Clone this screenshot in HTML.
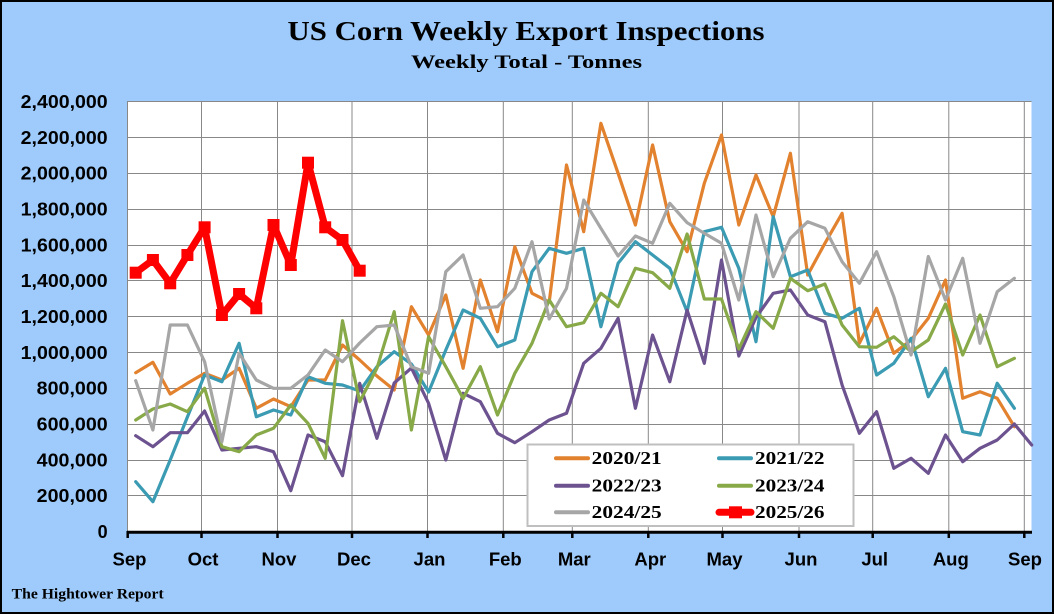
<!DOCTYPE html>
<html>
<head>
<meta charset="utf-8">
<style>
html,body{margin:0;padding:0;background:#9ecbfb;}
svg{display:block;}
</style>
</head>
<body>
<svg width="1054" height="614" viewBox="0 0 1054 614" xmlns="http://www.w3.org/2000/svg">
<rect x="0" y="0" width="1054" height="614" fill="#9ecbfb"/>
<rect x="1" y="1" width="1052" height="612" fill="none" stroke="#000" stroke-width="2"/>

<text x="526" y="40" text-anchor="middle" font-family="Liberation Serif, serif" font-weight="bold" font-size="27" textLength="477" lengthAdjust="spacingAndGlyphs" fill="#000">US Corn Weekly Export Inspections</text>
<text x="526.5" y="68" text-anchor="middle" font-family="Liberation Serif, serif" font-weight="bold" font-size="19" textLength="231" lengthAdjust="spacingAndGlyphs" fill="#000">Weekly Total - Tonnes</text>

<!-- plot area -->
<rect x="127.5" y="101.5" width="904" height="430" fill="#fff"/>
<g stroke="#888" stroke-width="1" fill="none">
<line x1="127.5" y1="101.5" x2="1031.5" y2="101.5"/>
<line x1="127.5" y1="137.5" x2="1031.5" y2="137.5"/>
<line x1="127.5" y1="173.5" x2="1031.5" y2="173.5"/>
<line x1="127.5" y1="209.5" x2="1031.5" y2="209.5"/>
<line x1="127.5" y1="245.5" x2="1031.5" y2="245.5"/>
<line x1="127.5" y1="280.5" x2="1031.5" y2="280.5"/>
<line x1="127.5" y1="316.5" x2="1031.5" y2="316.5"/>
<line x1="127.5" y1="352.5" x2="1031.5" y2="352.5"/>
<line x1="127.5" y1="388.5" x2="1031.5" y2="388.5"/>
<line x1="127.5" y1="424.5" x2="1031.5" y2="424.5"/>
<line x1="127.5" y1="460.5" x2="1031.5" y2="460.5"/>
<line x1="127.5" y1="495.5" x2="1031.5" y2="495.5"/>
<line x1="127.5" y1="101" x2="127.5" y2="532"/>
<line x1="201.5" y1="101" x2="201.5" y2="532"/>
<line x1="277.5" y1="101" x2="277.5" y2="532"/>
<line x1="352" y1="101" x2="352" y2="532"/>
<line x1="427.5" y1="101" x2="427.5" y2="532"/>
<line x1="503.3" y1="101" x2="503.3" y2="532"/>
<line x1="572.3" y1="101" x2="572.3" y2="532"/>
<line x1="648.3" y1="101" x2="648.3" y2="532"/>
<line x1="722.5" y1="101" x2="722.5" y2="532"/>
<line x1="799" y1="101" x2="799" y2="532"/>
<line x1="872.7" y1="101" x2="872.7" y2="532"/>
<line x1="948.8" y1="101" x2="948.8" y2="532"/>
<line x1="1024.3" y1="101" x2="1024.3" y2="532"/>
</g>

<!-- series -->
<g fill="none" stroke-width="3.2" stroke-linejoin="round" stroke-linecap="round">
<polyline stroke="#e2822f" points="135.7,372.7 152.9,362.3 170.2,394 187.4,383.3 204.6,373.3 221.9,380 239.1,368.3 256.3,408.3 273.5,399 290.8,406.7 308.0,380 325.2,380 342.5,345 359.7,360 376.9,376 394.2,390 411.4,306.7 428.6,335 445.8,295 463.1,368.3 480.3,280 497.5,331.7 514.8,246.7 532.0,293.3 549.2,302 566.5,165 583.7,231.7 600.9,123.3 618.1,173.3 635.4,225 652.6,145 669.8,221.7 687.1,251.7 704.3,183.3 721.5,135 738.8,225 756.0,175 773.2,216.7 790.4,153.3 807.7,275 824.9,243.3 842.1,213.3 859.4,343.3 876.6,308.3 893.8,353.3 911.1,340 928.3,318.3 945.5,280 962.7,398.3 980.0,391.7 997.2,398.3 1014.4,426.7"/>
<polyline stroke="#3b9bb3" points="135.7,481.7 152.9,501.7 170.2,460 187.4,417 204.6,375 221.9,381.7 239.1,343.3 256.3,416.7 273.5,410 290.8,415 308.0,376.7 325.2,383.3 342.5,385 359.7,391 376.9,366.7 394.2,351.7 411.4,364 428.6,392 445.8,350 463.1,310 480.3,318.3 497.5,346.7 514.8,340 532.0,271.7 549.2,248.3 566.5,253.3 583.7,248.3 600.9,326.7 618.1,263.3 635.4,241.7 652.6,255 669.8,268.3 687.1,311.7 704.3,231.7 721.5,227.3 738.8,268.3 756.0,341.7 773.2,216.7 790.4,276.7 807.7,270 824.9,313.3 842.1,318.3 859.4,308.3 876.6,375 893.8,363.3 911.1,338.3 928.3,396.7 945.5,368.3 962.7,431.7 980.0,435 997.2,383.3 1014.4,408.3"/>
<polyline stroke="#6d5290" points="135.7,435.7 152.9,446.7 170.2,432.7 187.4,432.7 204.6,411 221.9,450 239.1,448.3 256.3,446.7 273.5,451.7 290.8,490.7 308.0,435 325.2,441.7 342.5,475.7 359.7,383.3 376.9,438.3 394.2,383 411.4,368 428.6,403.3 445.8,460 463.1,393.3 480.3,401.7 497.5,433.3 514.8,442.7 532.0,431.7 549.2,420 566.5,413.3 583.7,363.3 600.9,348.3 618.1,318.3 635.4,408.3 652.6,335 669.8,381.7 687.1,310 704.3,363.3 721.5,260 738.8,356 756.0,317.5 773.2,293.3 790.4,290 807.7,315 824.9,321.7 842.1,385 859.4,433.3 876.6,411.7 893.8,468.3 911.1,458.3 928.3,473.3 945.5,435 962.7,461.7 980.0,448.3 997.2,440 1014.4,424 1031.7,445"/>
<polyline stroke="#88a948" points="135.7,420 152.9,409 170.2,404 187.4,411.7 204.6,388.3 221.9,446.7 239.1,451.7 256.3,435 273.5,428.3 290.8,405 308.0,423.3 325.2,458.3 342.5,320.7 359.7,401.7 376.9,368.3 394.2,311.7 411.4,430 428.6,336.7 445.8,366.7 463.1,398.3 480.3,366.7 497.5,415 514.8,373.3 532.0,343.3 549.2,300 566.5,326.7 583.7,322.7 600.9,293.3 618.1,306.7 635.4,268.3 652.6,272.7 669.8,288.3 687.1,234 704.3,299 721.5,299 738.8,349 756.0,311.7 773.2,328.3 790.4,278.3 807.7,290.7 824.9,284 842.1,325 859.4,346.7 876.6,347.3 893.8,336.7 911.1,351.7 928.3,340 945.5,304 962.7,355 980.0,315 997.2,366.7 1014.4,358.3"/>
<polyline stroke="#a6a6a6" points="135.7,380.7 152.9,430 170.2,325 187.4,325 204.6,361.7 221.9,441.7 239.1,353.3 256.3,380 273.5,388.3 290.8,388.3 308.0,375 325.2,350 342.5,361.7 359.7,343 376.9,326.7 394.2,325 411.4,366.7 428.6,373.3 445.8,271.7 463.1,255 480.3,308.3 497.5,306.7 514.8,288.3 532.0,241.7 549.2,319 566.5,288.3 583.7,200 600.9,228.3 618.1,256 635.4,236 652.6,243.3 669.8,203.3 687.1,222.7 704.3,233.3 721.5,243.3 738.8,300 756.0,215 773.2,276.7 790.4,238.3 807.7,221.7 824.9,228.3 842.1,261.7 859.4,283.3 876.6,251.7 893.8,296.7 911.1,355 928.3,256.5 945.5,300 962.7,258.3 980.0,343.3 997.2,291.7 1014.4,278.3"/>
</g>
<polyline fill="none" stroke="#ff0000" stroke-width="7" stroke-linejoin="round" points="135.7,272.7 152.9,260 170.2,283.3 187.4,255 204.6,227.3 221.9,315 239.1,294 256.3,308.3 273.5,225 290.8,265 308.0,162.7 325.2,227.3 342.5,240 359.7,270.7"/>
<g fill="#ff0000">
<rect x="129.7" y="266.7" width="12" height="12"/>
<rect x="146.9" y="254" width="12" height="12"/>
<rect x="164.2" y="277.3" width="12" height="12"/>
<rect x="181.4" y="249" width="12" height="12"/>
<rect x="198.6" y="221.3" width="12" height="12"/>
<rect x="215.9" y="309" width="12" height="12"/>
<rect x="233.1" y="288" width="12" height="12"/>
<rect x="250.3" y="302.3" width="12" height="12"/>
<rect x="267.5" y="219" width="12" height="12"/>
<rect x="284.8" y="259" width="12" height="12"/>
<rect x="302.0" y="156.7" width="12" height="12"/>
<rect x="319.2" y="221.3" width="12" height="12"/>
<rect x="336.5" y="234" width="12" height="12"/>
<rect x="353.7" y="264.7" width="12" height="12"/>
</g>

<!-- x axis -->
<line x1="127" y1="532.2" x2="1032" y2="532.2" stroke="#000" stroke-width="3"/>
<g stroke="#000" stroke-width="2.5">
<line x1="127.7" y1="531" x2="127.7" y2="538"/>
<line x1="201.5" y1="531" x2="201.5" y2="538"/>
<line x1="277.5" y1="531" x2="277.5" y2="538"/>
<line x1="352" y1="531" x2="352" y2="538"/>
<line x1="427.5" y1="531" x2="427.5" y2="538"/>
<line x1="503.3" y1="531" x2="503.3" y2="538"/>
<line x1="572.3" y1="531" x2="572.3" y2="538"/>
<line x1="648.3" y1="531" x2="648.3" y2="538"/>
<line x1="722.5" y1="531" x2="722.5" y2="538"/>
<line x1="799" y1="531" x2="799" y2="538"/>
<line x1="872.7" y1="531" x2="872.7" y2="538"/>
<line x1="948.8" y1="531" x2="948.8" y2="538"/>
<line x1="1024.3" y1="531" x2="1024.3" y2="538"/>
</g>

<!-- y labels -->
<g font-family="Liberation Sans, Arial, sans-serif" font-weight="bold" font-size="18" text-anchor="end" fill="#000">
<text x="107.7" y="108" textLength="87" lengthAdjust="spacingAndGlyphs">2,400,000</text>
<text x="107.7" y="143.8" textLength="87" lengthAdjust="spacingAndGlyphs">2,200,000</text>
<text x="107.7" y="179.6" textLength="87" lengthAdjust="spacingAndGlyphs">2,000,000</text>
<text x="107.7" y="215.5" textLength="87" lengthAdjust="spacingAndGlyphs">1,800,000</text>
<text x="107.7" y="251.3" textLength="87" lengthAdjust="spacingAndGlyphs">1,600,000</text>
<text x="107.7" y="287.2" textLength="87" lengthAdjust="spacingAndGlyphs">1,400,000</text>
<text x="107.7" y="323" textLength="87" lengthAdjust="spacingAndGlyphs">1,200,000</text>
<text x="107.7" y="358.8" textLength="87" lengthAdjust="spacingAndGlyphs">1,000,000</text>
<text x="107.7" y="394.7" textLength="71" lengthAdjust="spacingAndGlyphs">800,000</text>
<text x="107.7" y="430.5" textLength="71" lengthAdjust="spacingAndGlyphs">600,000</text>
<text x="107.7" y="466.3" textLength="71" lengthAdjust="spacingAndGlyphs">400,000</text>
<text x="107.7" y="502.2" textLength="71" lengthAdjust="spacingAndGlyphs">200,000</text>
<text x="107.7" y="538">0</text>
</g>

<!-- x labels -->
<g font-family="Liberation Sans, Arial, sans-serif" font-weight="bold" font-size="18.5" text-anchor="middle" fill="#000">
<text x="129.5" y="565.7">Sep</text>
<text x="203" y="565.7">Oct</text>
<text x="279" y="565.7">Nov</text>
<text x="354" y="565.7">Dec</text>
<text x="429.5" y="565.7">Jan</text>
<text x="505.3" y="565.7">Feb</text>
<text x="574.3" y="565.7">Mar</text>
<text x="650.3" y="565.7">Apr</text>
<text x="724.5" y="565.7">May</text>
<text x="801" y="565.7">Jun</text>
<text x="874.7" y="565.7">Jul</text>
<text x="950.8" y="565.7">Aug</text>
<text x="1025" y="565.7">Sep</text>
</g>

<!-- legend -->
<rect x="527.5" y="444.5" width="326" height="81.5" fill="#fff" stroke="#bfbfbf" stroke-width="2"/>
<g stroke-width="4" stroke-linecap="round">
<line x1="556" y1="458.3" x2="588" y2="458.3" stroke="#e2822f"/>
<line x1="719" y1="458.3" x2="751" y2="458.3" stroke="#3b9bb3"/>
<line x1="556" y1="485.7" x2="588" y2="485.7" stroke="#6d5290"/>
<line x1="719" y1="485.7" x2="751" y2="485.7" stroke="#88a948"/>
<line x1="556" y1="512.3" x2="588" y2="512.3" stroke="#a6a6a6"/>
</g>
<line x1="719" y1="512.3" x2="751" y2="512.3" stroke="#ff0000" stroke-width="7" stroke-linecap="round"/>
<rect x="729" y="506.3" width="13" height="12" fill="#ff0000"/>
<g font-family="Liberation Serif, serif" font-weight="bold" font-size="17.5" fill="#000">
<text x="591.7" y="464" textLength="70" lengthAdjust="spacingAndGlyphs">2020/21</text>
<text x="755" y="464" textLength="69.5" lengthAdjust="spacingAndGlyphs">2021/22</text>
<text x="591.7" y="491.4" textLength="70" lengthAdjust="spacingAndGlyphs">2022/23</text>
<text x="755" y="491.4" textLength="69.5" lengthAdjust="spacingAndGlyphs">2023/24</text>
<text x="591.7" y="518" textLength="70" lengthAdjust="spacingAndGlyphs">2024/25</text>
<text x="755" y="518" textLength="69.5" lengthAdjust="spacingAndGlyphs">2025/26</text>
</g>

<text x="11.7" y="598.3" font-family="Liberation Serif, serif" font-weight="bold" font-size="14.5" textLength="152" lengthAdjust="spacingAndGlyphs" fill="#000">The Hightower Report</text>
</svg>
</body>
</html>
